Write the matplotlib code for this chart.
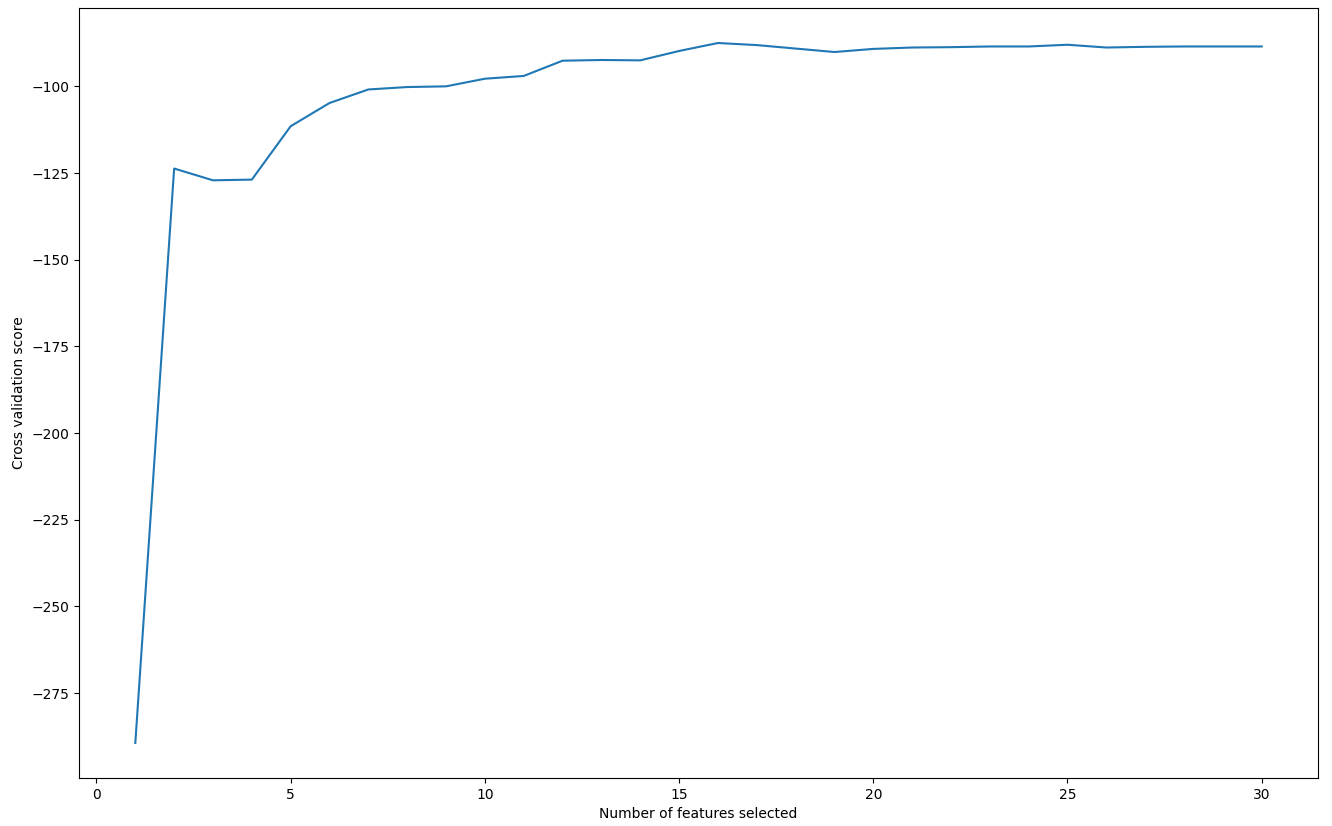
import matplotlib
matplotlib.use("Agg")
import matplotlib.pyplot as plt

# numero de features e score de validacao cruzada
n_features = list(range(1, 31))
cv_scores = [-289.4, -123.7, -127.1, -126.9, -111.5, -104.8, -100.9, -100.2, -100.0, -97.8,
             -97.0, -92.6, -92.4, -92.5, -89.8, -87.5, -88.1, -89.1, -90.1, -89.2,
             -88.8, -88.7, -88.5, -88.5, -88.0, -88.8, -88.6, -88.5, -88.5, -88.5]

fig = plt.figure(figsize=(13.32, 8.26), dpi=100)
plt.subplots_adjust(left=0.0593, right=0.9895, top=0.9903, bottom=0.0581)
plt.plot(n_features, cv_scores)
plt.xlabel("Number of features selected")
plt.ylabel("Cross validation score")
plt.savefig("out.png", dpi=100)
